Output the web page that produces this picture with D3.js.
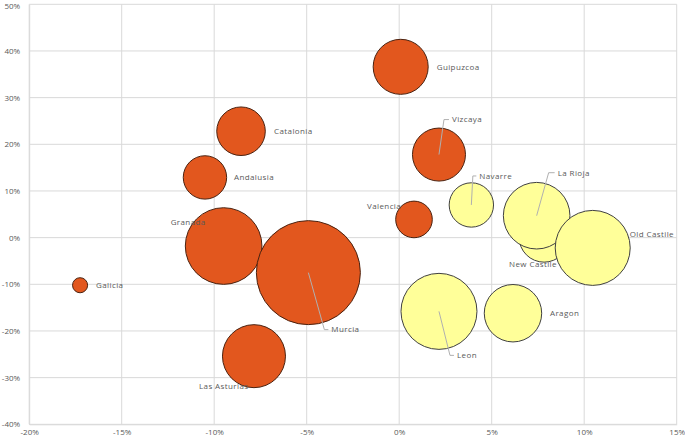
<!DOCTYPE html>
<html>
<head>
<meta charset="utf-8">
<script src="https://cdn.jsdelivr.net/npm/d3@7"></script>
<style>
  body { margin: 0; background: #fff; }
  text { font-family: "Open Sans", "Liberation Sans", sans-serif; fill: #595959; }
</style>
</head>
<body>
<div id="chart"></div>
<script>
// values (percent), drawing order = array order
var regions = ["Galicia", "Andalusia", "Catalonia", "Granada", "Murcia", "Las Asturias",
               "Guipuzcoa", "Vizcaya", "Valencia",
               "Navarre", "New Castile", "La Rioja", "Old Castile", "Leon", "Aragon"];
var xValues = [-17.25, -10.5, -8.55, -9.49, -4.91, -7.85, 0.08, 2.15, 0.8,
               3.9, 7.83, 7.43, 10.46, 2.15, 6.15];
var yValues = [-10.2, 12.9, 22.8, -1.8, -7.5, -25.4, 36.6, 17.8, 3.9,
               7.0, 0.1, 4.7, -2.2, -15.8, -16.2];
var sizes = [2.1, 17.4, 21.8, 54.3, 100, 36.7, 28.0, 26.0, 12.4,
             18.2, 23.1, 41.0, 52.0, 53.4, 30.5];
var groups = ["A", "A", "A", "A", "A", "A", "A", "A", "A",
              "B", "B", "B", "B", "B", "B"];
var xTicks = [-20, -15, -10, -5, 0, 5, 10, 15];
var yTicks = [-40, -30, -20, -10, 0, 10, 20, 30, 40, 50];

// label placement in px relative to bubble centre (elbow = leader line bend)
var labelLayout = {
  "Galicia":      {dx: 16, dy: 0},
  "Andalusia":    {dx: 29, dy: 0},
  "Catalonia":    {dx: 33, dy: 0},
  "Granada":      {dx: -53, dy: -24},
  "Murcia":       {dx: 23, dy: 57, elbow: [16, 57]},
  "Las Asturias": {dx: -55, dy: 30},
  "Guipuzcoa":    {dx: 36, dy: 0},
  "Vizcaya":      {dx: 13, dy: -35, elbow: [5, -35]},
  "Valencia":     {dx: -47, dy: -13},
  "Navarre":      {dx: 8, dy: -29, elbow: [1.5, -29]},
  "New Castile":  {dx: -35, dy: 27},
  "La Rioja":     {dx: 21, dy: -43, elbow: [12, -43]},
  "Old Castile":  {dx: 37, dy: -14},
  "Leon":         {dx: 18, dy: 44, elbow: [11, 44]},
  "Aragon":       {dx: 37, dy: 0}
};

var W = 685, H = 438;
var margin = {top: 4.3, right: 8.3, bottom: 13.7, left: 29.2};

var fills = {A: "#e2571e", B: "#ffff99"};
var strokes = {A: "#4a2210", B: "#404040"};

var data = regions.map(function(r, i) {
  return {name: r, x: xValues[i], y: yValues[i], size: sizes[i], group: groups[i]};
});

var svg = d3.select("#chart").append("svg")
    .attr("width", W)
    .attr("height", H);

var x = d3.scaleLinear().domain([-20, 15]).range([margin.left, W - margin.right]);
var y = d3.scaleLinear().domain([-40, 50]).range([H - margin.bottom, margin.top]);
var r = d3.scaleSqrt().domain([0, 100]).range([0, 52]);

// gridlines
svg.append("g").selectAll("line.vx")
    .data(xTicks).enter().append("line")
    .attr("x1", function(d){ return x(d); })
    .attr("x2", function(d){ return x(d); })
    .attr("y1", y(-40)).attr("y2", y(50))
    .attr("stroke", "#d9d9d9").attr("stroke-width", 1);

svg.append("g").selectAll("line.hy")
    .data(yTicks).enter().append("line")
    .attr("y1", function(d){ return y(d); })
    .attr("y2", function(d){ return y(d); })
    .attr("x1", x(-20)).attr("x2", x(15))
    .attr("stroke", "#d9d9d9").attr("stroke-width", 1);

// axes
var xAxis = d3.axisBottom(x).tickValues(xTicks).tickSize(0).tickPadding(5)
    .tickFormat(function(d){ return d + "%"; });
var yAxis = d3.axisLeft(y).tickValues(yTicks).tickSize(0).tickPadding(9)
    .tickFormat(function(d){ return d + "%"; });

svg.append("g")
    .attr("transform", "translate(0," + y(-40) + ")")
    .call(xAxis)
    .call(function(g){ g.select(".domain").attr("stroke", "#d9d9d9"); })
    .selectAll("text")
    .style("font-size", "8px")
    .style("fill", "#595959");

svg.append("g")
    .attr("transform", "translate(" + x(-20) + ",0)")
    .call(yAxis)
    .call(function(g){ g.select(".domain").attr("stroke", "#d9d9d9"); })
    .selectAll("text")
    .style("font-size", "8px")
    .style("fill", "#595959")
    .attr("dy", function(d){ return d === 50 ? "0.55em" : "0.32em"; });

// bubbles
svg.append("g").selectAll("circle")
    .data(data).enter().append("circle")
    .attr("cx", function(d){ return x(d.x); })
    .attr("cy", function(d){ return y(d.y); })
    .attr("r", function(d){ return r(d.size); })
    .attr("fill", function(d){ return fills[d.group]; })
    .attr("stroke", function(d){ return strokes[d.group]; })
    .attr("stroke-width", 1);

// leader lines
var leaders = data.filter(function(d){ return labelLayout[d.name].elbow; });
svg.append("g").selectAll("polyline")
    .data(leaders).enter().append("polyline")
    .attr("fill", "none")
    .attr("stroke", "#b0b0b0")
    .attr("stroke-width", 1)
    .attr("points", function(d){
      var cx = x(d.x), cy = y(d.y), L = labelLayout[d.name];
      return [[cx, cy], [cx + L.elbow[0], cy + L.elbow[1]], [cx + L.dx - 3, cy + L.dy]]
        .map(function(p){ return p.join(","); }).join(" ");
    });

// data labels
svg.append("g").selectAll("text")
    .data(data).enter().append("text")
    .attr("x", function(d){ return x(d.x) + labelLayout[d.name].dx; })
    .attr("y", function(d){ return y(d.y) + labelLayout[d.name].dy; })
    .attr("dy", "0.35em")
    .style("font-size", "8px")
    .style("letter-spacing", "0.4px")
    .text(function(d){ return d.name; });
</script>
</body>
</html>
